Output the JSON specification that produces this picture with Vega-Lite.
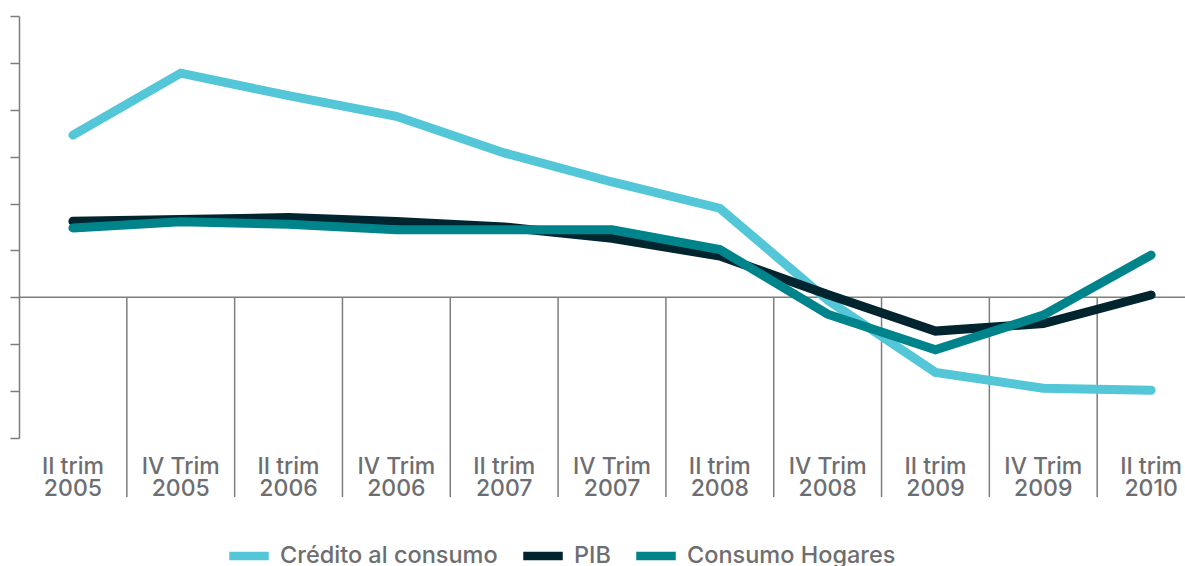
{
  "$schema": "https://vega.github.io/schema/vega-lite/v6.json",
  "width": 1166,
  "height": 422,
  "autosize": {"type": "none"},
  "padding": {"left": 19, "top": 16, "right": 0, "bottom": 128},
  "background": "white",
  "config": {
    "view": {"stroke": null},
    "font": "Inter"
  },
  "data": {
    "values": [
      {"periodo": "II trim 2005", "serie": "Crédito al consumo", "valor": 17.3},
      {"periodo": "IV Trim 2005", "serie": "Crédito al consumo", "valor": 23.9},
      {"periodo": "II trim 2006", "serie": "Crédito al consumo", "valor": 21.5},
      {"periodo": "IV Trim 2006", "serie": "Crédito al consumo", "valor": 19.3},
      {"periodo": "II trim 2007", "serie": "Crédito al consumo", "valor": 15.4},
      {"periodo": "IV Trim 2007", "serie": "Crédito al consumo", "valor": 12.3},
      {"periodo": "II trim 2008", "serie": "Crédito al consumo", "valor": 9.5},
      {"periodo": "IV Trim 2008", "serie": "Crédito al consumo", "valor": -0.3},
      {"periodo": "II trim 2009", "serie": "Crédito al consumo", "valor": -8.0},
      {"periodo": "IV Trim 2009", "serie": "Crédito al consumo", "valor": -9.7},
      {"periodo": "II trim 2010", "serie": "Crédito al consumo", "valor": -9.9},
      {"periodo": "II trim 2005", "serie": "PIB", "valor": 8.1},
      {"periodo": "IV Trim 2005", "serie": "PIB", "valor": 8.3},
      {"periodo": "II trim 2006", "serie": "PIB", "valor": 8.5},
      {"periodo": "IV Trim 2006", "serie": "PIB", "valor": 8.1},
      {"periodo": "II trim 2007", "serie": "PIB", "valor": 7.5},
      {"periodo": "IV Trim 2007", "serie": "PIB", "valor": 6.3},
      {"periodo": "II trim 2008", "serie": "PIB", "valor": 4.4},
      {"periodo": "IV Trim 2008", "serie": "PIB", "valor": 0.3},
      {"periodo": "II trim 2009", "serie": "PIB", "valor": -3.6},
      {"periodo": "IV Trim 2009", "serie": "PIB", "valor": -2.8},
      {"periodo": "II trim 2010", "serie": "PIB", "valor": 0.25},
      {"periodo": "II trim 2005", "serie": "Consumo Hogares", "valor": 7.4},
      {"periodo": "IV Trim 2005", "serie": "Consumo Hogares", "valor": 8.05},
      {"periodo": "II trim 2006", "serie": "Consumo Hogares", "valor": 7.8},
      {"periodo": "IV Trim 2006", "serie": "Consumo Hogares", "valor": 7.2},
      {"periodo": "II trim 2007", "serie": "Consumo Hogares", "valor": 7.2},
      {"periodo": "IV Trim 2007", "serie": "Consumo Hogares", "valor": 7.2},
      {"periodo": "II trim 2008", "serie": "Consumo Hogares", "valor": 5.1},
      {"periodo": "IV Trim 2008", "serie": "Consumo Hogares", "valor": -1.8},
      {"periodo": "II trim 2009", "serie": "Consumo Hogares", "valor": -5.6},
      {"periodo": "IV Trim 2009", "serie": "Consumo Hogares", "valor": -1.9},
      {"periodo": "II trim 2010", "serie": "Consumo Hogares", "valor": 4.5}
    ]
  },
  "encoding": {
    "x": {
      "field": "periodo",
      "type": "ordinal",
      "sort": null,
      "scale": {
        "type": "band",
        "paddingInner": 0,
        "paddingOuter": 0,
        "range": [0, 1186],
        "domain": [
          "II trim 2005", "IV Trim 2005", "II trim 2006", "IV Trim 2006",
          "II trim 2007", "IV Trim 2007", "II trim 2008", "IV Trim 2008",
          "II trim 2009", "IV Trim 2009", "II trim 2010"
        ]
      },
      "axis": {
        "title": null,
        "orient": "bottom",
        "domain": false,
        "ticks": false,
        "grid": false,
        "labelAngle": 0,
        "labelOverlap": false,
        "labelFont": "Inter",
        "labelFontSize": 23,
        "labelFontWeight": 500,
        "labelColor": "#6d6e71",
        "labelBaseline": "top",
        "labelPadding": 17,
        "labelLineHeight": 22,
        "labelExpr": "[slice(datum.label, 0, -5), slice(datum.label, -4)]"
      }
    }
  },
  "layer": [
    {
      "data": {"values": [{"cero": 0}]},
      "mark": {"type": "rule", "color": "#7d7d7d", "strokeWidth": 1.5},
      "encoding": {
        "x": null,
        "y": {"field": "cero", "type": "quantitative"}
      }
    },
    {
      "transform": [
        {"filter": "datum.serie === 'PIB' && datum.periodo !== 'II trim 2005'"}
      ],
      "mark": {"type": "rule", "color": "#7d7d7d", "strokeWidth": 1.5},
      "encoding": {
        "x": {"field": "periodo", "type": "ordinal", "sort": null, "bandPosition": 0},
        "y": {"datum": 0, "type": "quantitative"},
        "y2": {"datum": -21.3}
      }
    },
    {
      "mark": {"type": "line", "strokeWidth": 9, "strokeCap": "round", "strokeJoin": "miter"},
      "encoding": {
        "x": {"field": "periodo", "type": "ordinal", "sort": null, "bandPosition": 0.5},
        "y": {
          "field": "valor",
          "type": "quantitative",
          "scale": {"domain": [-15, 30], "nice": false, "zero": false},
          "axis": {
            "title": null,
            "labels": false,
            "grid": false,
            "values": [-15, -10, -5, 0, 5, 10, 15, 20, 25, 30],
            "tickSize": 9,
            "tickWidth": 1.5,
            "tickColor": "#7d7d7d",
            "domainWidth": 1.5,
            "domainColor": "#7d7d7d"
          }
        },
        "color": {
          "field": "serie",
          "type": "nominal",
          "sort": null,
          "scale": {
            "domain": ["Crédito al consumo", "PIB", "Consumo Hogares"],
            "range": ["#53c6d8", "#00252f", "#00848c"]
          },
          "legend": {
            "title": null,
            "orient": "none",
            "direction": "horizontal",
            "legendX": 206,
            "legendY": 516,
            "symbolType": "stroke",
            "symbolStrokeWidth": 8.5,
            "symbolSize": 1560,
            "labelFont": "Inter",
            "labelFontSize": 23.5,
            "labelFontWeight": 500,
            "labelColor": "#6d6e71",
            "labelOffset": 7,
            "columnPadding": 8,
            "labelLimit": 400
          }
        }
      }
    }
  ]
}
